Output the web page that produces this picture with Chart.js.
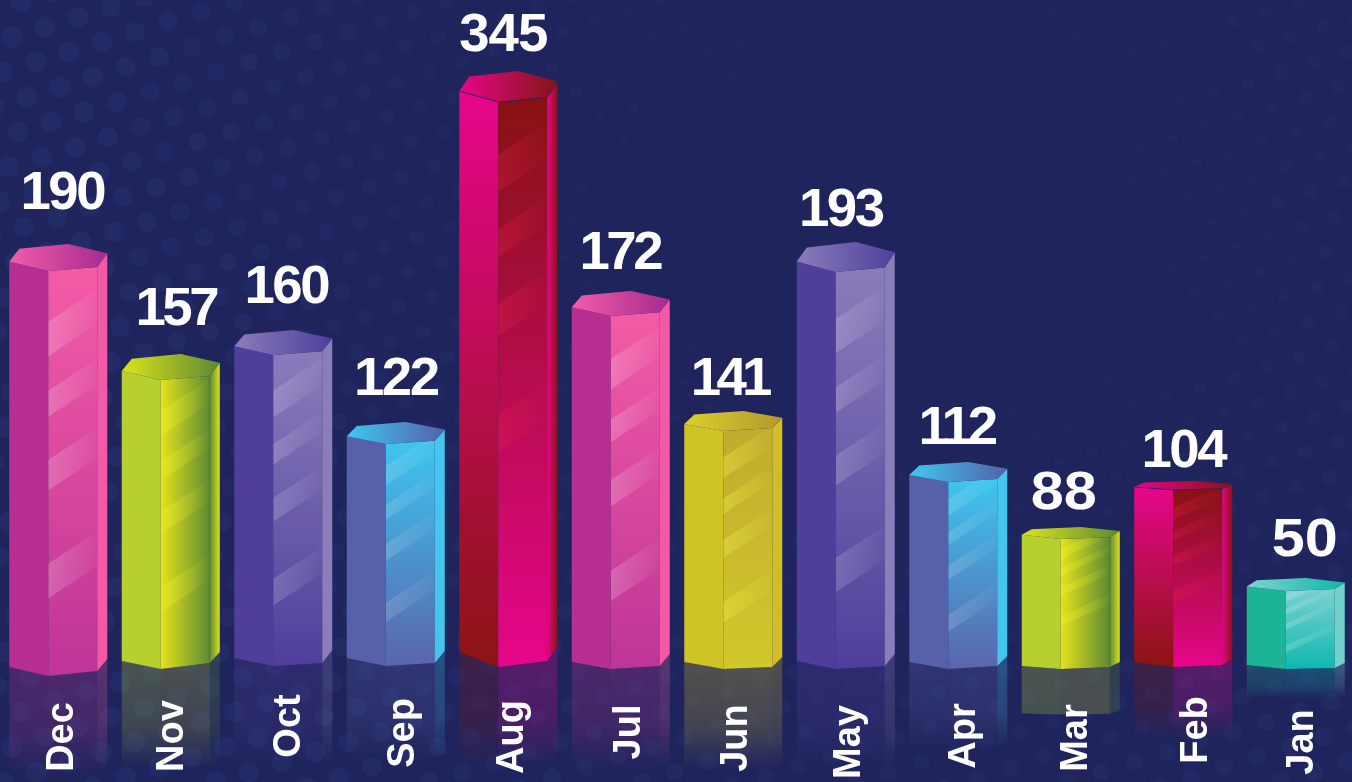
<!DOCTYPE html>
<html>
<head>
<meta charset="utf-8">
<style>html,body{margin:0;padding:0;background:#20245c;overflow:hidden}canvas{display:block}</style>
<script src="https://cdn.jsdelivr.net/npm/chart.js@4"></script>
</head>
<body>
<canvas id="c" width="1352" height="782"></canvas>
<script>
// --- data ---
const months = ["Dec","Nov","Oct","Sep","Aug","Jul","Jun","May","Apr","Mar","Feb","Jan"];
const values = [190,157,160,122,345,172,141,193,112,88,104,50];
// The source graphic's bar heights are not proportional to its printed values,
// so the value axis is a monotone lookup from value to the drawn height seen in the picture.
const drawnHeights = [425,315,339,247,598,378,258,427,207,142,188,91];

// --- styling, per bar ---
const barThemes = ["pink","lime","violet","sky","crimson","pink","gold","violet","sky","lime","crimson","teal"];
const topDepths = [27,26,25,22,31,25,20,30,20,12,9,13];
const baseShifts = [7,0,-3,-3,-2,0,0,0,0,0,-2,0];
const footDrops = [[9,5,17],[8,6,17],[8,3,16],[8,3,15],[15,6,20],[7,3,15],[7,2,12],[8,3,15],[7,3,13],[3,2,7],[5,2,8],[4,1,6]];
const reflectLengths = [100,100,100,95,100,100,100,100,80,46,70,30];
const reflectHard = [0,0,0,0,0,0,0,0,0,1,0,0];
const bandFit = [1,1,1,1,.78,1,1,1,1,.85,.8,1];
const labelOffsets = [[4,35],[5,29],[3,27],[0,27],[-5,20],[-1,22],[-4,16],[-5,16],[-2,18],[-7,18],[0,14],[9,22]];
const labelTracking = [-2.5,-3.5,-2.5,-2.5,-1,-3.5,-4.5,-2.5,-4,0,-2.5,0];
const labelStretch = [1.03,1.03,1.03,1.03,1.03,1.03,1.03,1.03,1.03,1.12,1.03,1.12];
const tickBaselineX = [73,183,300,414,523,640,747,860,975,1087,1207,1313];
const tickCenterY = [737,736,726,733,737,732,738,742,736,738,730,742];
const stripeBands = [[.18,.26],[.34,.40],[.50,.57],[.74,.82]];

const themes = {
  pink:   {left:["#b72f92","#b72f92"],center:["#f45ba6","#bd3597"],right:["#f25aa5","#f25aa5"],top:["#f25ca8","#a52b8e"],stripe:[255,255,255,.2]},
  lime:   {left:["#b7d02f","#b7d02f"],center:["#e4e31c","#5d8a35"],centerH:true,right:["#5e8a35","#dde01f"],rightH:true,top:["#dde31a","#5c8a35"],stripe:[240,240,40,.38]},
  violet: {left:["#4f3f9b","#4f3f9b"],center:["#8a7cbb","#4f3f9b"],right:["#8a7eba","#8a7eba"],top:["#8a7cbb","#4f3f9b"],stripe:[255,255,255,.17]},
  sky:    {left:["#5760aa","#5760aa"],center:["#3cc6ef","#5b64ad"],right:["#45c5ec","#45c5ec"],top:["#3ec8f0","#5660aa"],stripe:[255,255,255,.15]},
  crimson:{left:["#e6068a","#8c1414"],center:["#861212","#e6068a"],right:["#e6068a","#8c1414"],rightH:true,top:["#e6068a","#851515"],rim:true,stripe:[235,30,70,.3]},
  gold:   {left:["#d0c325","#d0c325"],center:["#c2ab2e","#d2c82c"],right:["#d0bd28","#d0bd28"],top:["#dad02c","#b3982e"],stripe:[240,235,70,.4]},
  teal:   {left:["#1cb496","#1cb496"],center:["#7ad0d0","#0fb8b0"],right:["#72d1ca","#72d1ca"],top:["#80d3d0","#0cb8a8"],stripe:[255,255,255,.2]}
};

// Value axis: looks the drawn height up from the (value, height) pairs above.
const lookup = [[0,0]].concat(values.map((v,i)=>[v,drawnHeights[i]])).sort((a,b)=>a[0]-b[0]);
const FRAME = 669;
class PictureScale extends Chart.LinearScale {
  getPixelForValue(v){
    let h = lookup[lookup.length-1][1];
    for(let k=1;k<lookup.length;k++){
      if(v<=lookup[k][0]){
        const a=lookup[k-1],b=lookup[k];
        h=a[1]+(b[1]-a[1])*(v-a[0])/(b[0]-a[0]);
        break;
      }
    }
    return this.bottom-this.height*h/FRAME;
  }
}
PictureScale.id='picture';
PictureScale.defaults=Chart.LinearScale.defaults;
Chart.register(PictureScale);

function poly(ctx,pts){ctx.beginPath();pts.forEach((p,i)=>i?ctx.lineTo(p[0],p[1]):ctx.moveTo(p[0],p[1]));ctx.closePath();}
function rgba(hex,a){const n=parseInt(hex.slice(1),16);return `rgba(${n>>16},${(n>>8)&255},${n&255},${a})`;}

function paintFace(ctx,pts,stops,horizontal){
  const xs=pts.map(p=>p[0]),ys=pts.map(p=>p[1]);
  const g=horizontal?ctx.createLinearGradient(Math.min(...xs),0,Math.max(...xs),0)
                    :ctx.createLinearGradient(0,Math.min(...ys),0,Math.max(...ys));
  g.addColorStop(0,stops[0]);g.addColorStop(1,stops[1]);
  ctx.fillStyle=g;poly(ctx,pts);ctx.fill();
}

const backdrop={
  id:'backdrop',
  beforeDraw(chart){
    const ctx=chart.ctx,W=chart.width,H=chart.height;
    ctx.save();
    ctx.fillStyle='#20245c';ctx.fillRect(0,0,W,H);
    for(let i=-40;i<60;i++)for(let j=-20;j<50;j++){
      const x=12+i*33+j*24,y=37-i*10+j*25;
      if(x<-12||x>W+12||y<-12||y>H+12)continue;
      const d=Math.hypot(x-900,y-200);
      const r=Math.min(10.5,3+d/110);
      const a=Math.min(1,Math.max(0,(d-180)/650));
      ctx.fillStyle=`rgba(38,50,112,${a*.5+.06})`;
      ctx.beginPath();ctx.arc(x,y,r,0,Math.PI*2);ctx.fill();
    }
    ctx.restore();
  }
};

const prisms={
  id:'prisms',
  afterDatasetsDraw(chart){
    const ctx=chart.ctx,meta=chart.getDatasetMeta(0);
    meta.data.forEach((el,i)=>{
      const t=themes[barThemes[i]],w=el.width,x0=el.x-w/2;
      const T=el.y,B=el.base+baseShifts[i],d=topDepths[i],f=footDrops[i];
      const xL=x0,xBL=x0+.102*w,xM=x0+.398*w,xBM=x0+.602*w,xF=x0+.898*w,xR=x0+w;
      const top={l:T+.65*d,bl:T+.18*d,bm:T,r:T+.34*d,f:T+.85*d,m:T+d};
      const bot={l:B-f[0],m:B,f:B-f[1],r:B-f[2]};
      ctx.save();
      // reflection on the floor
      const L=reflectLengths[i];
      [[[xL,bot.l],[xM,bot.m]],[[xM,bot.m],[xF,bot.f]],[[xF,bot.f],[xR,bot.r]]].forEach((e,k)=>{
        const col=k===0?t.left:k===1?t.center:t.right;
        const c=k===0?col[1]:(k===1?(t.centerH?"#b7c12f":col[1]):(t.rightH?col[0]:col[1]));
        const yA=Math.min(e[0][1],e[1][1]),yEnd=B+L;
        const g=ctx.createLinearGradient(0,yA,0,yEnd);
        g.addColorStop(0,rgba(c,.28));
        g.addColorStop(reflectHard[i]?.97:.6,rgba(c,reflectHard[i]?.26:.2));
        g.addColorStop(1,rgba(c,0));
        ctx.fillStyle=g;
        poly(ctx,[e[0],e[1],[e[1][0],yEnd+(e[1][1]-B)*.6],[e[0][0],yEnd+(e[0][1]-B)*.6]]);
        ctx.fill();
      });
      // body faces
      const centerPts=[[xM,top.m],[xF,top.f],[xF,bot.f],[xM,bot.m]];
      paintFace(ctx,[[xL,top.l],[xM,top.m],[xM,bot.m],[xL,bot.l]],t.left,false);
      paintFace(ctx,centerPts,t.center,!!t.centerH);
      paintFace(ctx,[[xF,top.f],[xR,top.r],[xR,bot.r],[xF,bot.f]],t.right,!!t.rightH);
      // glass stripes on the front face
      ctx.save();poly(ctx,centerPts);ctx.clip();
      const H=B-T,slope=H<200?.45:.66,run=xF-xM,s=t.stripe;
      stripeBands.forEach(b=>{
        const y1=T+b[0]*bandFit[i]*H,y2=T+b[1]*bandFit[i]*H;
        const g=ctx.createLinearGradient(xM,0,xF,0);
        g.addColorStop(0,`rgba(${s[0]},${s[1]},${s[2]},${s[3]})`);
        g.addColorStop(1,`rgba(${s[0]},${s[1]},${s[2]},.02)`);
        ctx.fillStyle=g;
        poly(ctx,[[xM,y1],[xF,y1-slope*run],[xF,y2-slope*run],[xM,y2]]);ctx.fill();
      });
      ctx.restore();
      // top face
      const topPts=[[xL,top.l],[xBL,top.bl],[xBM,top.bm],[xR,top.r],[xF,top.f],[xM,top.m]];
      paintFace(ctx,topPts,t.top,true);
      if(t.rim){
        ctx.strokeStyle='rgba(45,30,110,.85)';ctx.lineWidth=1;
        ctx.beginPath();ctx.moveTo(xL,top.l);ctx.lineTo(xM,top.m);ctx.lineTo(xF,top.f);ctx.lineTo(xR,top.r);ctx.stroke();
      }
      ctx.restore();
    });
    // text
    ctx.save();
    ctx.fillStyle='#ffffff';
    ctx.font='bold 53px "Liberation Sans", Arial, sans-serif';
    ctx.textAlign='center';ctx.textBaseline='alphabetic';
    meta.data.forEach((el,i)=>{
      ctx.save();
      ctx.translate(el.x+labelOffsets[i][0],el.y-labelOffsets[i][1]);
      ctx.scale(labelStretch[i],1);
      ctx.letterSpacing=labelTracking[i]+'px';
      ctx.fillText(String(values[i]),0,0);
      ctx.restore();
    });
    ctx.letterSpacing='0px';
    ctx.font='bold 38px "Liberation Sans", Arial, sans-serif';
    months.forEach((m,i)=>{
      ctx.save();
      ctx.translate(tickBaselineX[i],tickCenterY[i]);
      ctx.rotate(-Math.PI/2);
      ctx.fillText(m,0,0);
      ctx.restore();
    });
    ctx.restore();
  }
};

new Chart(document.getElementById('c'),{
  type:'bar',
  data:{labels:months,datasets:[{label:'Value',data:values,backgroundColor:'transparent',borderWidth:0,barThickness:98}]},
  options:{
    responsive:false,animation:false,
    layout:{padding:{left:2,right:0,top:0,bottom:113}},
    plugins:{legend:{display:false},title:{display:false},tooltip:{enabled:false}},
    scales:{
      x:{display:false,type:'category'},
      y:{display:false,type:'picture',min:0,max:345}
    }
  },
  plugins:[backdrop,prisms]
});
</script>
</body>
</html>
